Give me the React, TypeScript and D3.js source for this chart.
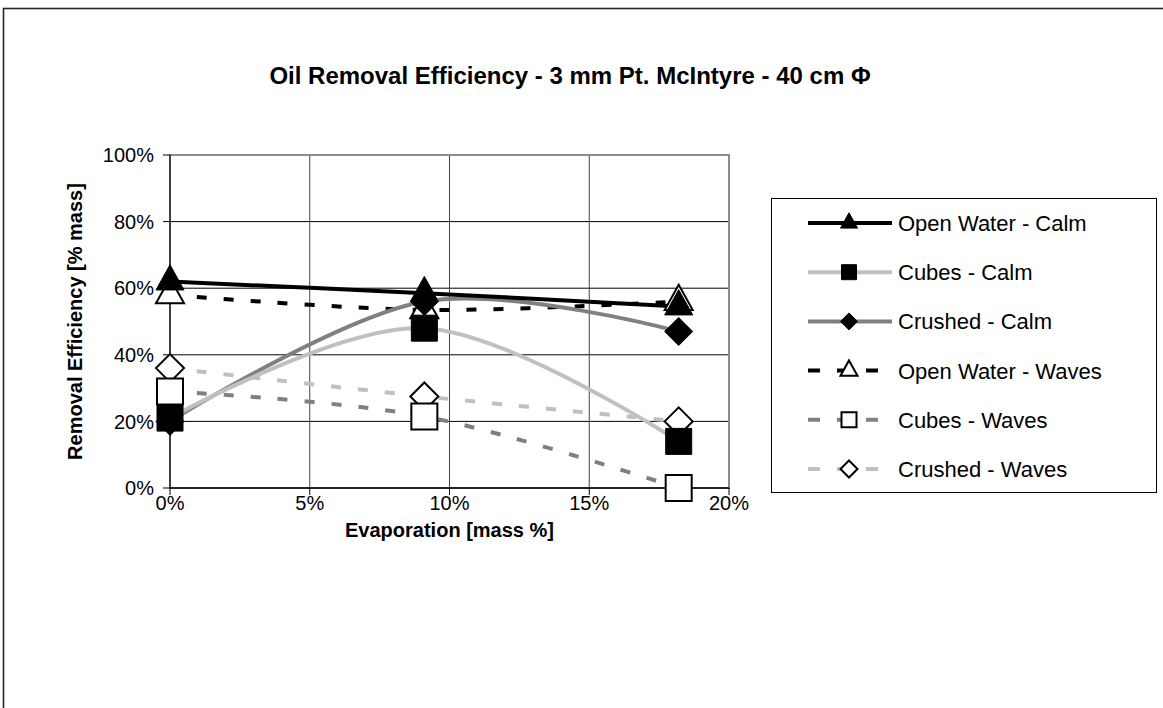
import React from 'react';
import * as d3 from 'd3';

// Evaporation levels (mass fraction) at which removal was measured
const evaporation = [0, 0.091, 0.182];

// Removal efficiency (mass fraction) per test condition
const openWaterCalm = [0.62, 0.585, 0.545];
const cubesCalm = [0.21, 0.48, 0.14];
const crushedCalm = [0.2, 0.56, 0.47];
const openWaterWaves = [0.58, 0.535, 0.56];
const cubesWaves = [0.29, 0.215, 0.0];
const crushedWaves = [0.36, 0.275, 0.2];

const seriesNames = [
  'Open Water - Calm',
  'Cubes - Calm',
  'Crushed - Calm',
  'Open Water - Waves',
  'Cubes - Waves',
  'Crushed - Waves',
];

const xTicks = [0, 0.05, 0.1, 0.15, 0.2];
const yTicks = [0, 0.2, 0.4, 0.6, 0.8, 1.0];

const titleText = 'Oil Removal Efficiency - 3 mm Pt. McIntyre - 40 cm \u03A6';
const xTitle = 'Evaporation [mass %]';
const yTitle = 'Removal Efficiency [% mass]';

type MarkerKind = 'triangle' | 'square' | 'diamond';

interface SeriesStyle {
  color: string;
  dashed: boolean;
  marker: MarkerKind;
  filled: boolean;
}

const styles: SeriesStyle[] = [
  { color: '#000000', dashed: false, marker: 'triangle', filled: true },
  { color: '#c0c0c0', dashed: false, marker: 'square', filled: true },
  { color: '#808080', dashed: false, marker: 'diamond', filled: true },
  { color: '#000000', dashed: true, marker: 'triangle', filled: false },
  { color: '#808080', dashed: true, marker: 'square', filled: false },
  { color: '#c0c0c0', dashed: true, marker: 'diamond', filled: false },
];

const seriesValues = [openWaterCalm, cubesCalm, crushedCalm, openWaterWaves, cubesWaves, crushedWaves];

function markerPath(kind: MarkerKind, size: number): string {
  const p = d3.path();
  if (kind === 'square') {
    const h = size / 2;
    p.rect(-h, -h, size, size);
  } else if (kind === 'diamond') {
    const h = size / 2;
    p.moveTo(0, -h);
    p.lineTo(h, 0);
    p.lineTo(0, h);
    p.lineTo(-h, 0);
    p.closePath();
  } else {
    const w = size;
    const ht = size * 0.9;
    p.moveTo(0, (-2 * ht) / 3);
    p.lineTo(w / 2, ht / 3);
    p.lineTo(-w / 2, ht / 3);
    p.closePath();
  }
  return p.toString();
}

const FONT = '"Liberation Sans", Arial, sans-serif';

export default function App() {
  const width = 1163;
  const height = 708;
  const plot = { left: 170, right: 729, top: 155, bottom: 488 };

  const x = d3.scaleLinear().domain([0, 0.2]).range([plot.left, plot.right]);
  const y = d3.scaleLinear().domain([0, 1]).range([plot.bottom, plot.top]);
  const pct = d3.format('.0%');

  const line = d3
    .line<[number, number]>()
    .x((d) => x(d[0]))
    .y((d) => y(d[1]))
    .curve(d3.curveCardinal.tension(0));

  const series = seriesNames.map((name, i) => ({
    name,
    style: styles[i],
    points: evaporation.map((e, j) => [e, seriesValues[i][j]] as [number, number]),
  }));
  // later series sit underneath earlier ones
  const drawOrder = [...series].reverse();

  const dash = '10,17';
  const legend = { x: 771, y: 198, w: 385, h: 294, row0: 223, step: 49.2, lineX0: 808, lineX1: 892, mx: 849, tx: 898 };

  return (
    <svg
      width={width}
      height={height}
      style={{ position: 'absolute', left: 0, top: 0, display: 'block', background: '#fff' }}
      fontFamily={FONT}
    >
      <rect x={0} y={0} width={width} height={height} fill="#fff" />
      {/* chart frame */}
      <rect x={3.5} y={8.5} width={width + 20} height={height + 20} fill="none" stroke="#262626" strokeWidth={1.6} />

      <text x={570} y={84} textAnchor="middle" fontSize={24} fontWeight="bold" fill="#000">
        {titleText}
      </text>

      {/* gridlines */}
      {yTicks.map((t) => (
        <line key={'gy' + t} x1={plot.left} x2={plot.right} y1={y(t)} y2={y(t)} stroke="#000" strokeWidth={1} />
      ))}
      {xTicks.slice(1, -1).map((t) => (
        <line key={'gx' + t} x1={x(t)} x2={x(t)} y1={plot.top} y2={plot.bottom} stroke="#444" strokeWidth={1} />
      ))}
      {/* plot area border */}
      <rect
        x={plot.left}
        y={plot.top}
        width={plot.right - plot.left}
        height={plot.bottom - plot.top}
        fill="none"
        stroke="#8c8c8c"
        strokeWidth={2}
      />
      {/* axes */}
      <line x1={plot.left} x2={plot.left} y1={plot.top} y2={plot.bottom} stroke="#404040" strokeWidth={2} />
      <line x1={plot.left} x2={plot.right} y1={plot.bottom} y2={plot.bottom} stroke="#000" strokeWidth={1.5} />
      {yTicks.map((t) => (
        <g key={'ty' + t}>
          <line x1={plot.left - 7} x2={plot.left} y1={y(t)} y2={y(t)} stroke="#000" strokeWidth={1} />
          <text x={plot.left - 16} y={y(t)} dy="0.36em" textAnchor="end" fontSize={20} fill="#000">
            {pct(t)}
          </text>
        </g>
      ))}
      {xTicks.map((t) => (
        <g key={'tx' + t}>
          <line x1={x(t)} x2={x(t)} y1={plot.bottom} y2={plot.bottom + 7} stroke="#000" strokeWidth={1} />
          <text x={x(t)} y={plot.bottom + 22} textAnchor="middle" fontSize={20} fill="#000">
            {pct(t)}
          </text>
        </g>
      ))}
      <text
        x={(plot.left + plot.right) / 2}
        y={537}
        textAnchor="middle"
        fontSize={20}
        fontWeight="bold"
        fill="#000"
      >
        {xTitle}
      </text>
      <text
        transform={`translate(82,${(plot.top + plot.bottom) / 2}) rotate(-90)`}
        textAnchor="middle"
        fontSize={20}
        fontWeight="bold"
        fill="#000"
      >
        {yTitle}
      </text>

      {/* series lines */}
      {drawOrder.map((s) => (
        <path
          key={'l' + s.name}
          d={line(s.points) || ''}
          fill="none"
          stroke={s.style.color}
          strokeWidth={4}
          strokeDasharray={s.style.dashed ? dash : undefined}
        />
      ))}
      {/* series markers */}
      {drawOrder.map((s) => (
        <g key={'m' + s.name}>
          {s.points.map((p, j) => (
            <path
              key={j}
              transform={`translate(${x(p[0])},${y(p[1])})`}
              d={markerPath(s.style.marker, s.style.marker === 'square' ? 26 : 28)}
              fill={s.style.filled ? '#000' : '#fff'}
              stroke="#000"
              strokeWidth={s.style.filled ? 1 : 2}
            />
          ))}
        </g>
      ))}

      {/* legend */}
      <rect x={legend.x + 0.5} y={legend.y + 0.5} width={legend.w} height={legend.h} fill="#fff" stroke="#000" strokeWidth={1} />
      {series.map((s, i) => {
        const ry = legend.row0 + i * legend.step;
        return (
          <g key={'lg' + s.name}>
            <line
              x1={legend.lineX0}
              x2={legend.lineX1}
              y1={ry}
              y2={ry}
              stroke={s.style.color}
              strokeWidth={4}
              strokeDasharray={s.style.dashed ? '12,17' : undefined}
            />
            <path
              transform={`translate(${legend.mx},${ry})`}
              d={markerPath(s.style.marker, s.style.marker === 'square' ? 15 : 17)}
              fill={s.style.filled ? '#000' : '#fff'}
              stroke="#000"
              strokeWidth={s.style.filled ? 1 : 2}
            />
            <text x={legend.tx} y={ry} dy="0.36em" fontSize={22} fill="#000">
              {s.name}
            </text>
          </g>
        );
      })}
    </svg>
  );
}
